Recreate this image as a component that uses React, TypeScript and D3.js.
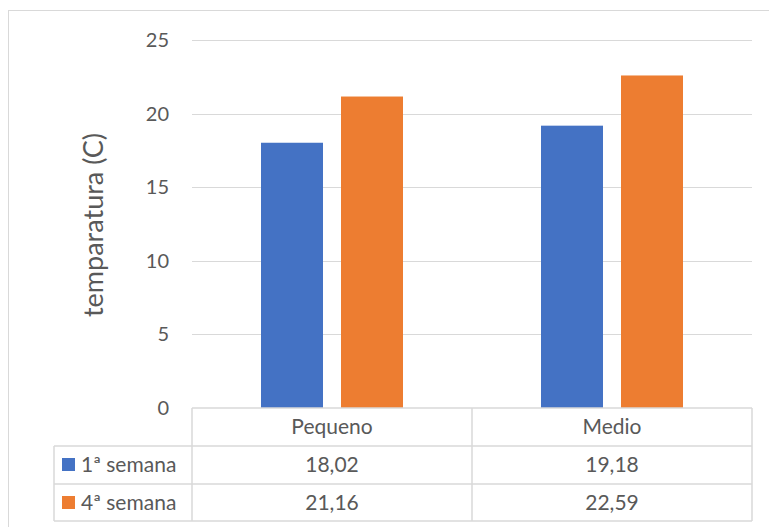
import React from "react";
import * as d3 from "d3";

const categories = ["Pequeno", "Medio"];
const seriesNames = ["1ª semana", "4ª semana"];
const week1 = [18.02, 19.18];
const week4 = [21.16, 22.59];
const yTicks = [0, 5, 10, 15, 20, 25];
const colors = ["#4472C4", "#ED7D31"];

const W = 769;
const H = 527;
const FONT = "Lato, 'Open Sans', sans-serif";
const TXT = "#595959";
const GRID = "#D9D9D9";

export default function App() {
  const plotL = 192, plotR = 752, plotT = 40, plotB = 408;
  const x = d3.scaleBand<string>().domain(categories).range([plotL, plotR]).paddingInner(0).paddingOuter(0);
  const y = d3.scaleLinear().domain([0, 25]).range([plotB, plotT]);
  const series = [week1, week4];
  const barW = 62, gap = 18;
  const rows = [408, 446, 484, 521];
  const legendL = 54;
  const fmt = (v: number) => v.toFixed(2).replace(".", ",");

  return (
    <svg width={W} height={H} style={{ position: "absolute", left: 0, top: 0, fontFamily: FONT }}>
      <rect x={0} y={0} width={W} height={H} fill="#fff" />
      <rect x={8.5} y={10.5} width={W + 10} height={H + 10} fill="none" stroke={GRID} strokeWidth={1} />
      {yTicks.map((t) => (
        <g key={t}>
          {t > 0 && <line x1={plotL} x2={plotR} y1={Math.round(y(t)) + 0.5} y2={Math.round(y(t)) + 0.5} stroke={GRID} strokeWidth={1} />}
          <text x={169} y={y(t)} dy="0.35em" textAnchor="end" fontSize={20} fill={TXT}>{t}</text>
        </g>
      ))}
      {categories.map((c, i) => {
        const cx = (x(c) as number) + x.bandwidth() / 2;
        const groupW = barW * 2 + gap;
        return series.map((s, j) => {
          const bx = cx - groupW / 2 + j * (barW + gap);
          return <rect key={c + j} x={bx} y={y(s[i])} width={barW} height={y(0) - y(s[i])} fill={colors[j]} />;
        });
      })}
      <text transform={`translate(103,225) rotate(-90)`} textAnchor="middle" fontSize={27} fill={TXT}>temparatura (C)</text>
      {/* data table */}
      <g stroke={GRID} strokeWidth={1.5} fill="none">
        <line x1={plotL} x2={plotR} y1={rows[0]} y2={rows[0]} />
        <line x1={legendL} x2={plotR} y1={rows[1]} y2={rows[1]} />
        <line x1={legendL} x2={plotR} y1={rows[2]} y2={rows[2]} />
        <line x1={legendL} x2={plotR} y1={rows[3]} y2={rows[3]} />
        <line x1={legendL} x2={legendL} y1={rows[1]} y2={rows[3]} />
        {[plotL, ...categories.map((c) => (x(c) as number) + x.bandwidth())].map((xx, k) => (
          <line key={k} x1={xx} x2={xx} y1={rows[0]} y2={rows[3]} />
        ))}
      </g>
      {categories.map((c) => (
        <text key={c} x={(x(c) as number) + x.bandwidth() / 2} y={434} textAnchor="middle" fontSize={21} fill={TXT}>{c}</text>
      ))}
      {seriesNames.map((n, j) => (
        <g key={n}>
          <rect x={62} y={rows[j + 1] + 12} width={13} height={13} fill={colors[j]} />
          <text x={81} y={rows[j + 1] + 26} fontSize={21} fill={TXT}>{n}</text>
          {categories.map((c, i) => (
            <text key={c} x={(x(c) as number) + x.bandwidth() / 2} y={rows[j + 1] + 26} textAnchor="middle" fontSize={21} fill={TXT}>{fmt(series[j][i])}</text>
          ))}
        </g>
      ))}
    </svg>
  );
}
